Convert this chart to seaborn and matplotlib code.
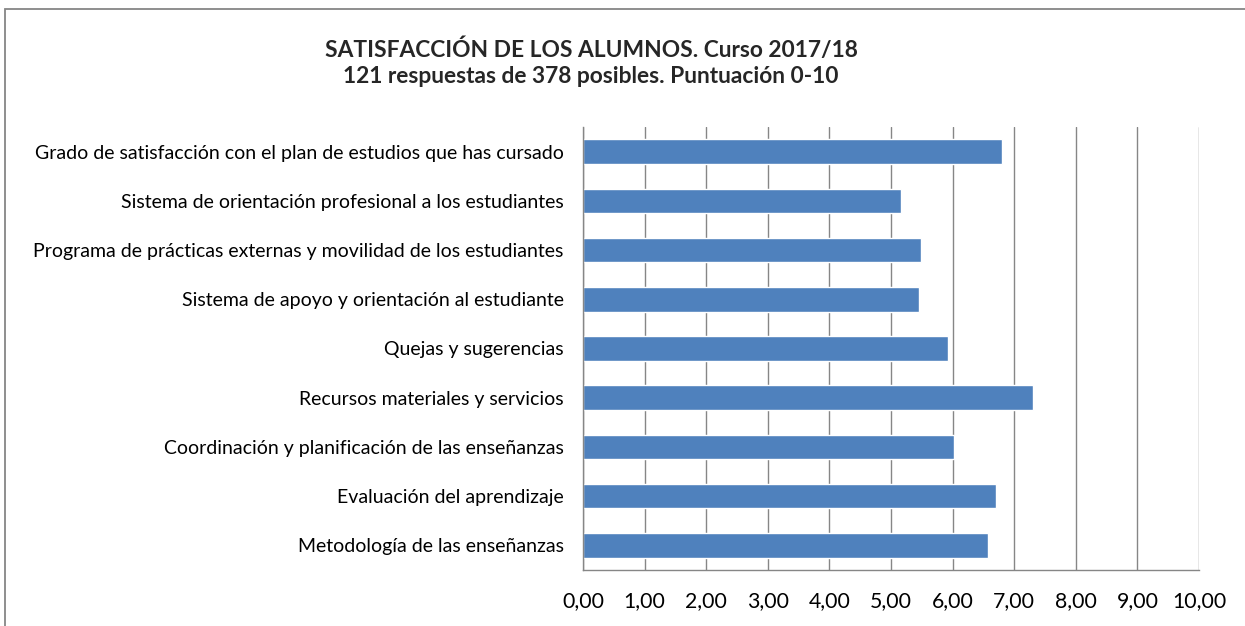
import matplotlib
matplotlib.use("Agg")
import matplotlib.pyplot as plt
from matplotlib.patches import Rectangle
from matplotlib.ticker import FuncFormatter
import seaborn as sns
import pandas as pd

# survey items, top to bottom as in the chart
categories = [
    "Grado de satisfacción con el plan de estudios que has cursado",
    "Sistema de orientación profesional a los estudiantes",
    "Programa de prácticas externas y movilidad de los estudiantes",
    "Sistema de apoyo y orientación al estudiante",
    "Quejas y sugerencias",
    "Recursos materiales y servicios",
    "Coordinación y planificación de las enseñanzas",
    "Evaluación del aprendizaje",
    "Metodología de las enseñanzas",
]
scores = [6.81, 5.16, 5.49, 5.46, 5.93, 7.30, 6.03, 6.71, 6.58]
x_ticks = [0, 1, 2, 3, 4, 5, 6, 7, 8, 9, 10]

title = "SATISFACCIÓN DE LOS ALUMNOS. Curso 2017/18\n121 respuestas de 378 posibles. Puntuación 0-10"

bar_color = "#4F81BD"
grid_color = "#868686"

sns.set_style("white")
plt.rcParams["font.family"] = ["Lato", "DejaVu Sans"]

df = pd.DataFrame({"item": categories, "score": scores})

fig = plt.figure(figsize=(12.45, 6.26), dpi=100)
ax = fig.add_axes([583 / 1245, 1 - 570 / 626, 616 / 1245, 443 / 626])

sns.barplot(df, x="score", y="item", color=bar_color, width=0.5,
            saturation=1, ax=ax)

ax.set_xlim(0, 10)
ax.set_ylim(len(categories) - 0.5, -0.5)
ax.set_xticks(x_ticks)
ax.xaxis.set_major_formatter(FuncFormatter(lambda v, p: f"{v:.2f}".replace(".", ",")))
ax.set_xlabel("")
ax.set_ylabel("")

ax.grid(axis="x", color=grid_color, linewidth=1.0)
ax.set_axisbelow(True)
for side in ["top", "right"]:
    ax.spines[side].set_visible(False)
for side in ["left", "bottom"]:
    ax.spines[side].set_color(grid_color)
    ax.spines[side].set_linewidth(1.0)

ax.tick_params(axis="x", length=3, color=grid_color, labelsize=15.3, pad=12,
               labelcolor="black")
ax.tick_params(axis="y", length=0, labelsize=14, pad=14, labelcolor="black")

fig.text(591 / 1245, 1 - 63 / 626, title, ha="center", va="center",
         fontsize=16.4, fontweight="bold", linespacing=1.3)

# outer chart frame (cut off on the right and bottom in the original)
fig.add_artist(Rectangle((5 / 1245, -0.1), 1.2, 1.1 - 9 / 626,
                         transform=fig.transFigure, fill=False,
                         edgecolor=grid_color, linewidth=1.3))

fig.savefig("out.png", dpi=100)
